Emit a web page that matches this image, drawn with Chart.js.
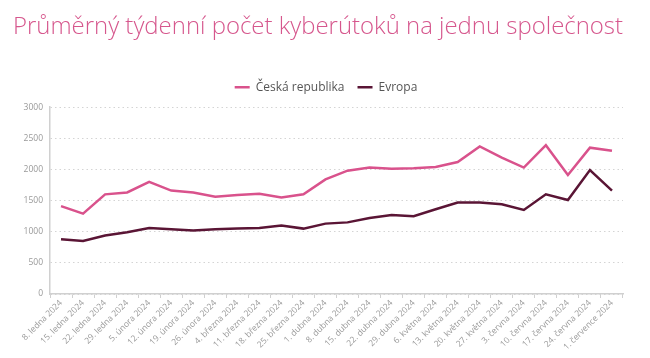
<!DOCTYPE html>
<html>
<head>
<meta charset="utf-8">
<script src="https://cdn.jsdelivr.net/npm/chart.js@4"></script>
<style>
html,body{margin:0;padding:0;background:#fff;}
#wrap{width:650px;height:358px;position:relative;}
</style>
</head>
<body>
<div id="wrap"><canvas id="c" width="650" height="358"></canvas></div>
<script>
const categories = ["8. ledna 2024","15. ledna 2024","22. ledna 2024","29. ledna 2024","5. února 2024","12. února 2024","19. února 2024","26. února 2024","4. března 2024","11. března 2024","18. března 2024","25. března 2024","1. dubna 2024","8. dubna 2024","15. dubna 2024","22. dubna 2024","29. dubna 2024","6. května 2024","13. května 2024","20. května 2024","27. května 2024","3. června 2024","10. června 2024","17. června 2024","24. června 2024","1. července 2024"];
const czValues = [1410,1290,1600,1630,1800,1660,1630,1560,1590,1610,1550,1600,1840,1980,2030,2010,2020,2040,2120,2370,2190,2030,2390,1910,2350,2300];
const euValues = [880,850,940,990,1060,1040,1020,1040,1050,1060,1100,1050,1130,1150,1220,1270,1250,1360,1470,1470,1440,1350,1600,1510,1990,1660];
const yTicks = [0,500,1000,1500,2000,2500,3000];
const seriesNames = ["Česká republika","Evropa"];

const legendTweak = {
  id: 'legendTweak',
  beforeLayout(chart) {
    const lg = chart.legend;
    if (lg && !lg._patched) {
      const orig = lg.fit;
      lg.fit = function() { orig.call(this); this.height += 4; };
      lg._patched = true;
    }
  },
  afterLayout(chart) {
    const lg = chart.legend;
    if (lg) { lg.left += 8; lg.right += 8; }
  }
};

const ctx = document.getElementById('c');
new Chart(ctx, {
  type: 'line',
  data: {
    labels: categories,
    datasets: [
      {label: seriesNames[0], data: czValues, borderColor: '#d9528c', backgroundColor: '#d9528c', borderWidth: 2.5, pointRadius: 0, tension: 0},
      {label: seriesNames[1], data: euValues, borderColor: '#5a1535', backgroundColor: '#5a1535', borderWidth: 2.5, pointRadius: 0, tension: 0}
    ]
  },
  options: {
    responsive: false,
    animation: false,
    layout: {padding: {left: 13, right: 27, top: 12, bottom: 0}},
    plugins: {
      title: {
        display: true,
        text: 'Průměrný týdenní počet kyberútoků na jednu společnost',
        color: '#d6578d',
        font: {family: 'Open Sans', size: 24.3, weight: 300},
        padding: {top: 0, bottom: 27}
      },
      legend: {
        display: true,
        position: 'top',
        labels: {
          usePointStyle: true,
          pointStyle: 'line',
          pointStyleWidth: 15,
          boxWidth: 15,
          color: '#555',
          font: {family: 'Open Sans', size: 12},
          padding: 13
        }
      },
      tooltip: {enabled: false}
    },
    scales: {
      x: {
        offset: true,
        grid: {display: true, drawOnChartArea: false, drawTicks: true, tickLength: 4, color: '#d0d0d0', offset: true},
        border: {display: true, color: '#d0d0d0', width: 1.5},
        ticks: {color: '#999', font: {family: 'Open Sans', size: 8.5}, maxRotation: 45, minRotation: 45, autoSkip: false, padding: 0},
        afterFit: s => { s.height = 64; }
      },
      y: {
        min: 0, max: 3000,
        afterBuildTicks: s => { s.ticks = yTicks.map(v => ({value: v})); },
        grid: {color: '#d4d4d4', drawTicks: false, lineWidth: 1},
        border: {display: true, color: '#d0d0d0', width: 1.5, dash: [1.5, 3]},
        ticks: {color: '#999', font: {family: 'Open Sans', size: 8.5}, padding: 7, callback: v => String(v)},
        afterFit: s => { s.width = 37; }
      }
    }
  },
  plugins: [legendTweak]
});
</script>
</body>
</html>
